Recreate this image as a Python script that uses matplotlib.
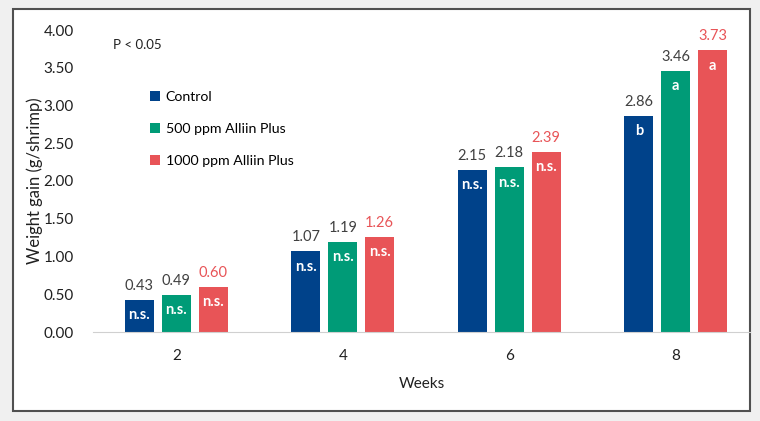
import numpy as np
import matplotlib.pyplot as plt
from matplotlib.patches import Rectangle

plt.rcParams['font.family'] = ['Lato', 'DejaVu Sans']

weeks = ['2', '4', '6', '8']
series = ['Control', '500 ppm Alliin Plus', '1000 ppm Alliin Plus']
control = [0.43, 1.07, 2.15, 2.86]
alliin500 = [0.49, 1.19, 2.18, 3.46]
alliin1000 = [0.60, 1.26, 2.39, 3.73]
marks_control = ['n.s.', 'n.s.', 'n.s.', 'b']
marks_500 = ['n.s.', 'n.s.', 'n.s.', 'a']
marks_1000 = ['n.s.', 'n.s.', 'n.s.', 'a']

colors = ['#00428A', '#009B77', '#E85457']
value_colors = ['#404040', '#404040', '#E85457']

fig = plt.figure(figsize=(7.6, 4.21), dpi=100)
fig.patch.set_facecolor('#f0f0f0')
# white panel with dark frame, kept behind the axes
frame = Rectangle((13/760, 1-411/421), 737/760, 402/421, transform=fig.transFigure,
                  facecolor='white', edgecolor='#505050', linewidth=1.5, zorder=-5)
fig.patches.append(frame)

ax = fig.add_axes([93/760, 1-332/421, 657/760, 302/421])
ax.set_facecolor('none')
ax.set_zorder(2)

x = np.arange(len(weeks))
step = 0.222
width = 0.174
data = [control, alliin500, alliin1000]
marks = [marks_control, marks_500, marks_1000]
for i, (vals, mk) in enumerate(zip(data, marks)):
    pos = x + (i - 1) * step
    ax.bar(pos, vals, width=width, color=colors[i], label=series[i], zorder=2)
    for px, v, m in zip(pos, vals, mk):
        ax.annotate(f'{v:.2f}', (px, v), xytext=(0, 5), textcoords='offset points',
                    ha='center', va='bottom', fontsize=10.5, color=value_colors[i])
        ax.annotate(m, (px, v), xytext=(0, -6), textcoords='offset points',
                    ha='center', va='top', fontsize=10.5, color='white', fontweight='bold')

ax.set_xlim(-0.5, 3.446)
ax.set_ylim(0, 4)
ax.set_yticks(np.arange(0, 4.01, 0.5))
ax.set_yticklabels([f'{t:.2f}' for t in np.arange(0, 4.01, 0.5)], fontsize=11, color='#202020')
ax.set_xticks(x)
ax.set_xticklabels(weeks, fontsize=11, color='#202020')
ax.tick_params(axis='both', length=0)
ax.tick_params(axis='x', pad=12)
ax.tick_params(axis='y', pad=14)
for s in ['top', 'right', 'left']:
    ax.spines[s].set_visible(False)
ax.spines['bottom'].set_color('#d0d0d0')

ax.set_xlabel('Weeks', fontsize=11, color='#202020', labelpad=10)
ax.set_ylabel('Weight gain (g/shrimp)', fontsize=12, color='#202020', labelpad=0)

fig.text(113/760, 1-45/421, 'P < 0.05', fontsize=9.5, va='center', color='#202020')
leg = ax.legend(loc='upper left', bbox_to_anchor=(50/657, 1-54/302), frameon=False,
                fontsize=10.2, handlelength=0.7, handleheight=0.7, handletextpad=0.4,
                labelspacing=1.42, borderpad=0)

fig.savefig('out.png', dpi=100, facecolor=fig.get_facecolor())
